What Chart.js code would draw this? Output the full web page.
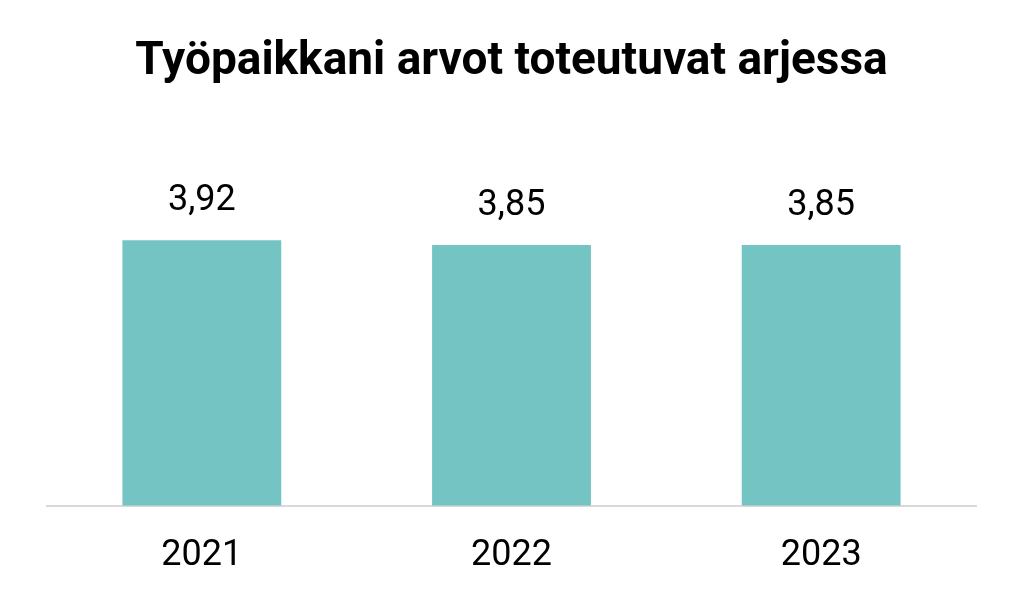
<!DOCTYPE html>
<html>
<head>
<meta charset="utf-8">
<script src="https://cdn.jsdelivr.net/npm/chart.js@4"></script>
<style>
  html, body { margin: 0; padding: 0; background: #fff; }
  #wrap { width: 1024px; height: 603px; }
</style>
</head>
<body>
<div id="wrap"><canvas id="chart"></canvas></div>
<script>
// Data
const years = ['2021', '2022', '2023'];
const scores = [3.92, 3.85, 3.85];

// Labels above the bars, with a decimal comma
const valueLabels = {
    id: 'valueLabels',
    afterDatasetsDraw(chart) {
        const ctx = chart.ctx;
        const meta = chart.getDatasetMeta(0);
        ctx.save();
        ctx.font = '36px Roboto';
        ctx.fillStyle = '#000';
        ctx.textAlign = 'center';
        ctx.textBaseline = 'alphabetic';
        meta.data.forEach((bar, i) => {
            ctx.fillText(scores[i].toFixed(2).replace('.', ','), bar.x, bar.y - 30);
        });
        ctx.restore();
    }
};

new Chart(document.getElementById('chart'), {
    type: 'bar',
    data: {
        labels: years,
        datasets: [{
            data: scores,
            backgroundColor: '#74C4C4',
            borderWidth: 0,
            barPercentage: 0.513,
            categoryPercentage: 1
        }]
    },
    options: {
        responsive: true,
        maintainAspectRatio: false,
        animation: false,
        layout: { padding: { left: 47, right: 48, top: 0, bottom: 4 } },
        plugins: {
            legend: { display: false },
            tooltip: { enabled: false },
            title: {
                display: true,
                text: 'Työpaikkani arvot toteutuvat arjessa',
                color: '#000',
                font: { family: 'Roboto', size: 46, weight: 'bold' },
                padding: { top: 35, bottom: 77 }
            }
        },
        scales: {
            y: { display: false, min: 0, max: 5 },
            x: {
                grid: { display: false },
                border: { display: true, color: '#d9d9d9', width: 2 },
                ticks: {
                    color: '#000',
                    padding: 21,
                    font: { family: 'Roboto', size: 36 }
                }
            }
        }
    },
    plugins: [valueLabels]
});
</script>
</body>
</html>
